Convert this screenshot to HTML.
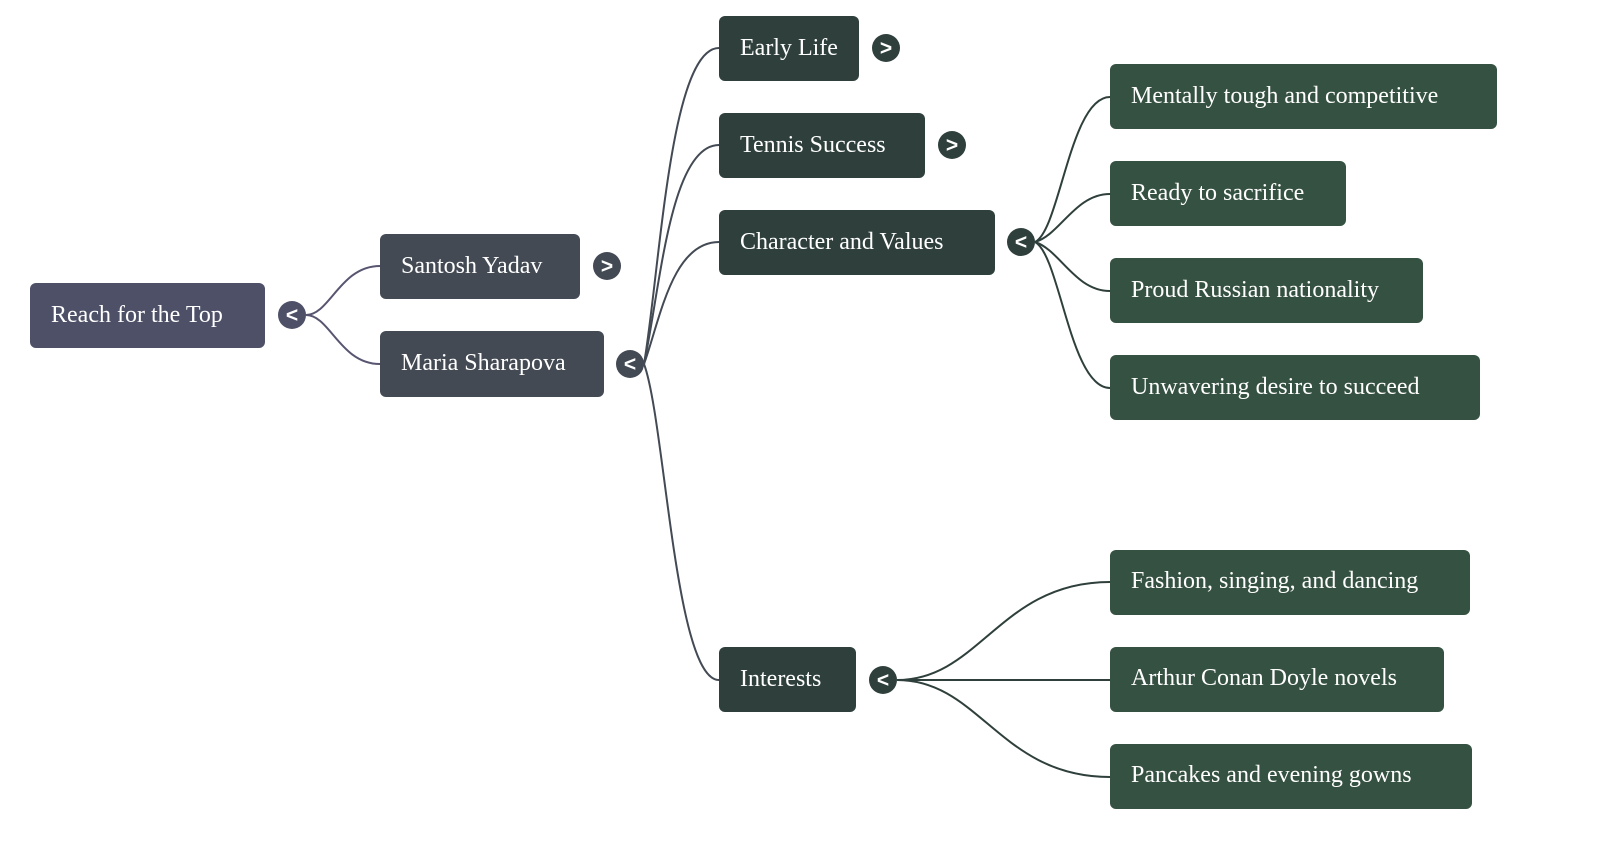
<!DOCTYPE html>
<html><head><meta charset="utf-8"><style>
html,body{margin:0;padding:0;background:#fff;}
svg{display:block;}
text{font-family:"Liberation Serif",serif;font-size:24px;fill:#fff;}
.t{font-family:"Liberation Sans",sans-serif;font-size:21px;font-weight:bold;text-anchor:middle;}
</style></head><body>
<svg width="1600" height="842" viewBox="0 0 1600 842" xmlns="http://www.w3.org/2000/svg">
<g fill="none" stroke-width="2">
<g stroke="#575570">
<path d="M306 315 C330 315 340 266 380 266"/>
<path d="M306 315 C330 315 340 364 380 364"/>
</g>
<g stroke="#434a54">
<path d="M644 364 C660 270 670 48 719 48"/>
<path d="M644 364 C660 290 670 145 719 145"/>
<path d="M644 364 C660 320 672 242 719 242"/>
<path d="M644 364 C665 420 675 680 719 680"/>
</g>
<g stroke="#2f403c">
<path d="M1035 242 C1060 230 1070 97 1110 97"/>
<path d="M1035 242 C1060 235 1075 194 1110 194"/>
<path d="M1035 242 C1060 250 1075 291 1110 291"/>
<path d="M1035 242 C1060 255 1070 388 1110 388"/>
<path d="M897 680 C980 680 1000 582 1110 582"/>
<path d="M897 680 L1110 680"/>
<path d="M897 680 C980 680 1000 777 1110 777"/>
</g>
</g>
<rect x="30" y="283" width="235" height="65" rx="6" fill="#4e5068"/>
<text x="51" y="322">Reach for the Top</text>
<rect x="380" y="234" width="200" height="65" rx="6" fill="#434a54"/>
<text x="401" y="273">Santosh Yadav</text>
<rect x="380" y="331" width="224" height="66" rx="6" fill="#434a54"/>
<text x="401" y="370">Maria Sharapova</text>
<g fill="#2f403c">
<rect x="719" y="16" width="140" height="65" rx="6"/>
<rect x="719" y="113" width="206" height="65" rx="6"/>
<rect x="719" y="210" width="276" height="65" rx="6"/>
<rect x="719" y="647" width="137" height="65" rx="6"/>
</g>
<text x="740" y="55">Early Life</text>
<text x="740" y="152">Tennis Success</text>
<text x="740" y="249">Character and Values</text>
<text x="740" y="686">Interests</text>
<g fill="#355141">
<rect x="1110" y="64" width="387" height="65" rx="6"/>
<rect x="1110" y="161" width="236" height="65" rx="6"/>
<rect x="1110" y="258" width="313" height="65" rx="6"/>
<rect x="1110" y="355" width="370" height="65" rx="6"/>
<rect x="1110" y="550" width="360" height="65" rx="6"/>
<rect x="1110" y="647" width="334" height="65" rx="6"/>
<rect x="1110" y="744" width="362" height="65" rx="6"/>
</g>
<text x="1131" y="103">Mentally tough and competitive</text>
<text x="1131" y="200">Ready to sacrifice</text>
<text x="1131" y="297">Proud Russian nationality</text>
<text x="1131" y="394">Unwavering desire to succeed</text>
<text x="1131" y="588">Fashion, singing, and dancing</text>
<text x="1131" y="685">Arthur Conan Doyle novels</text>
<text x="1131" y="782">Pancakes and evening gowns</text>
<circle cx="292" cy="315" r="14" fill="#4e5068"/><text class="t" x="292" y="322">&lt;</text>
<circle cx="607" cy="266" r="14" fill="#434a54"/><text class="t" x="607" y="273">&gt;</text>
<circle cx="630" cy="364" r="14" fill="#434a54"/><text class="t" x="630" y="371">&lt;</text>
<circle cx="886" cy="48" r="14" fill="#2f403c"/><text class="t" x="886" y="55">&gt;</text>
<circle cx="952" cy="145" r="14" fill="#2f403c"/><text class="t" x="952" y="152">&gt;</text>
<circle cx="1021" cy="242" r="14" fill="#2f403c"/><text class="t" x="1021" y="249">&lt;</text>
<circle cx="883" cy="680" r="14" fill="#2f403c"/><text class="t" x="883" y="687">&lt;</text>
</svg>
</body></html>
